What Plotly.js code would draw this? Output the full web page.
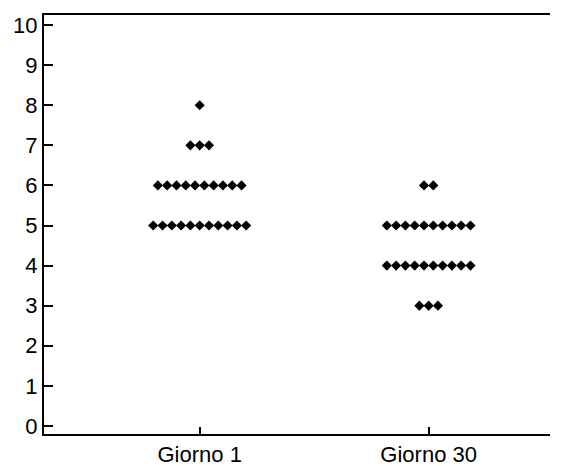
<!DOCTYPE html>
<html><head><meta charset="utf-8">
<script src="https://cdn.plot.ly/plotly-3.0.1.min.js"></script>
<style>body{margin:0;background:#fff}#c{width:565px;height:466px}</style>
</head><body><div id="c"></div>
<script>
const categories = ["Giorno 1", "Giorno 30"];
const giorno1 = [8, 7,7,7, 6,6,6,6,6,6,6,6,6,6, 5,5,5,5,5,5,5,5,5,5,5];
const giorno30 = [6,6, 5,5,5,5,5,5,5,5,5,5, 4,4,4,4,4,4,4,4,4,4, 3,3,3];
const yTicks = [0,1,2,3,4,5,6,7,8,9,10];

const spacing = 0.0406;
function swarm(vals, ci){
  const groups = {};
  vals.forEach(v => { (groups[v] = groups[v] || []).push(v); });
  const xs = [], ys = [];
  Object.keys(groups).forEach(k => {
    const n = groups[k].length;
    groups[k].forEach((v, i) => { xs.push(ci + (i - (n-1)/2) * spacing); ys.push(v); });
  });
  return {xs, ys};
}
const traces = [giorno1, giorno30].map((vals, ci) => {
  const s = swarm(vals, ci);
  return {x: s.xs, y: s.ys, type: 'scatter', mode: 'markers',
    marker: {symbol: 'diamond', size: 7.8, color: '#000'}, hoverinfo: 'skip'};
});
const font = {family: 'Liberation Sans, Arial, sans-serif', size: 22, color: '#000'};
Plotly.newPlot('c', traces, {
  width: 565, height: 466,
  margin: {l: 44, r: 15, t: 15, b: 32},
  showlegend: false,
  paper_bgcolor: '#fff', plot_bgcolor: '#fff',
  font: font,
  xaxis: {range: [-0.68, 1.53], tickvals: [0, 1], ticktext: categories,
    showgrid: false, zeroline: false, showline: true, linecolor: '#000', linewidth: 2,
    mirror: true, ticks: 'inside', ticklen: 7, tickwidth: 2, tickcolor: '#000',
    tickfont: font},
  yaxis: {range: [-0.2, 10.25], tickvals: yTicks,
    showgrid: false, zeroline: false, showline: true, linecolor: '#000', linewidth: 2,
    ticks: 'inside', ticklen: 9, tickwidth: 2, tickcolor: '#000', tickfont: font}
}, {displayModeBar: false, staticPlot: true});
</script></body></html>
